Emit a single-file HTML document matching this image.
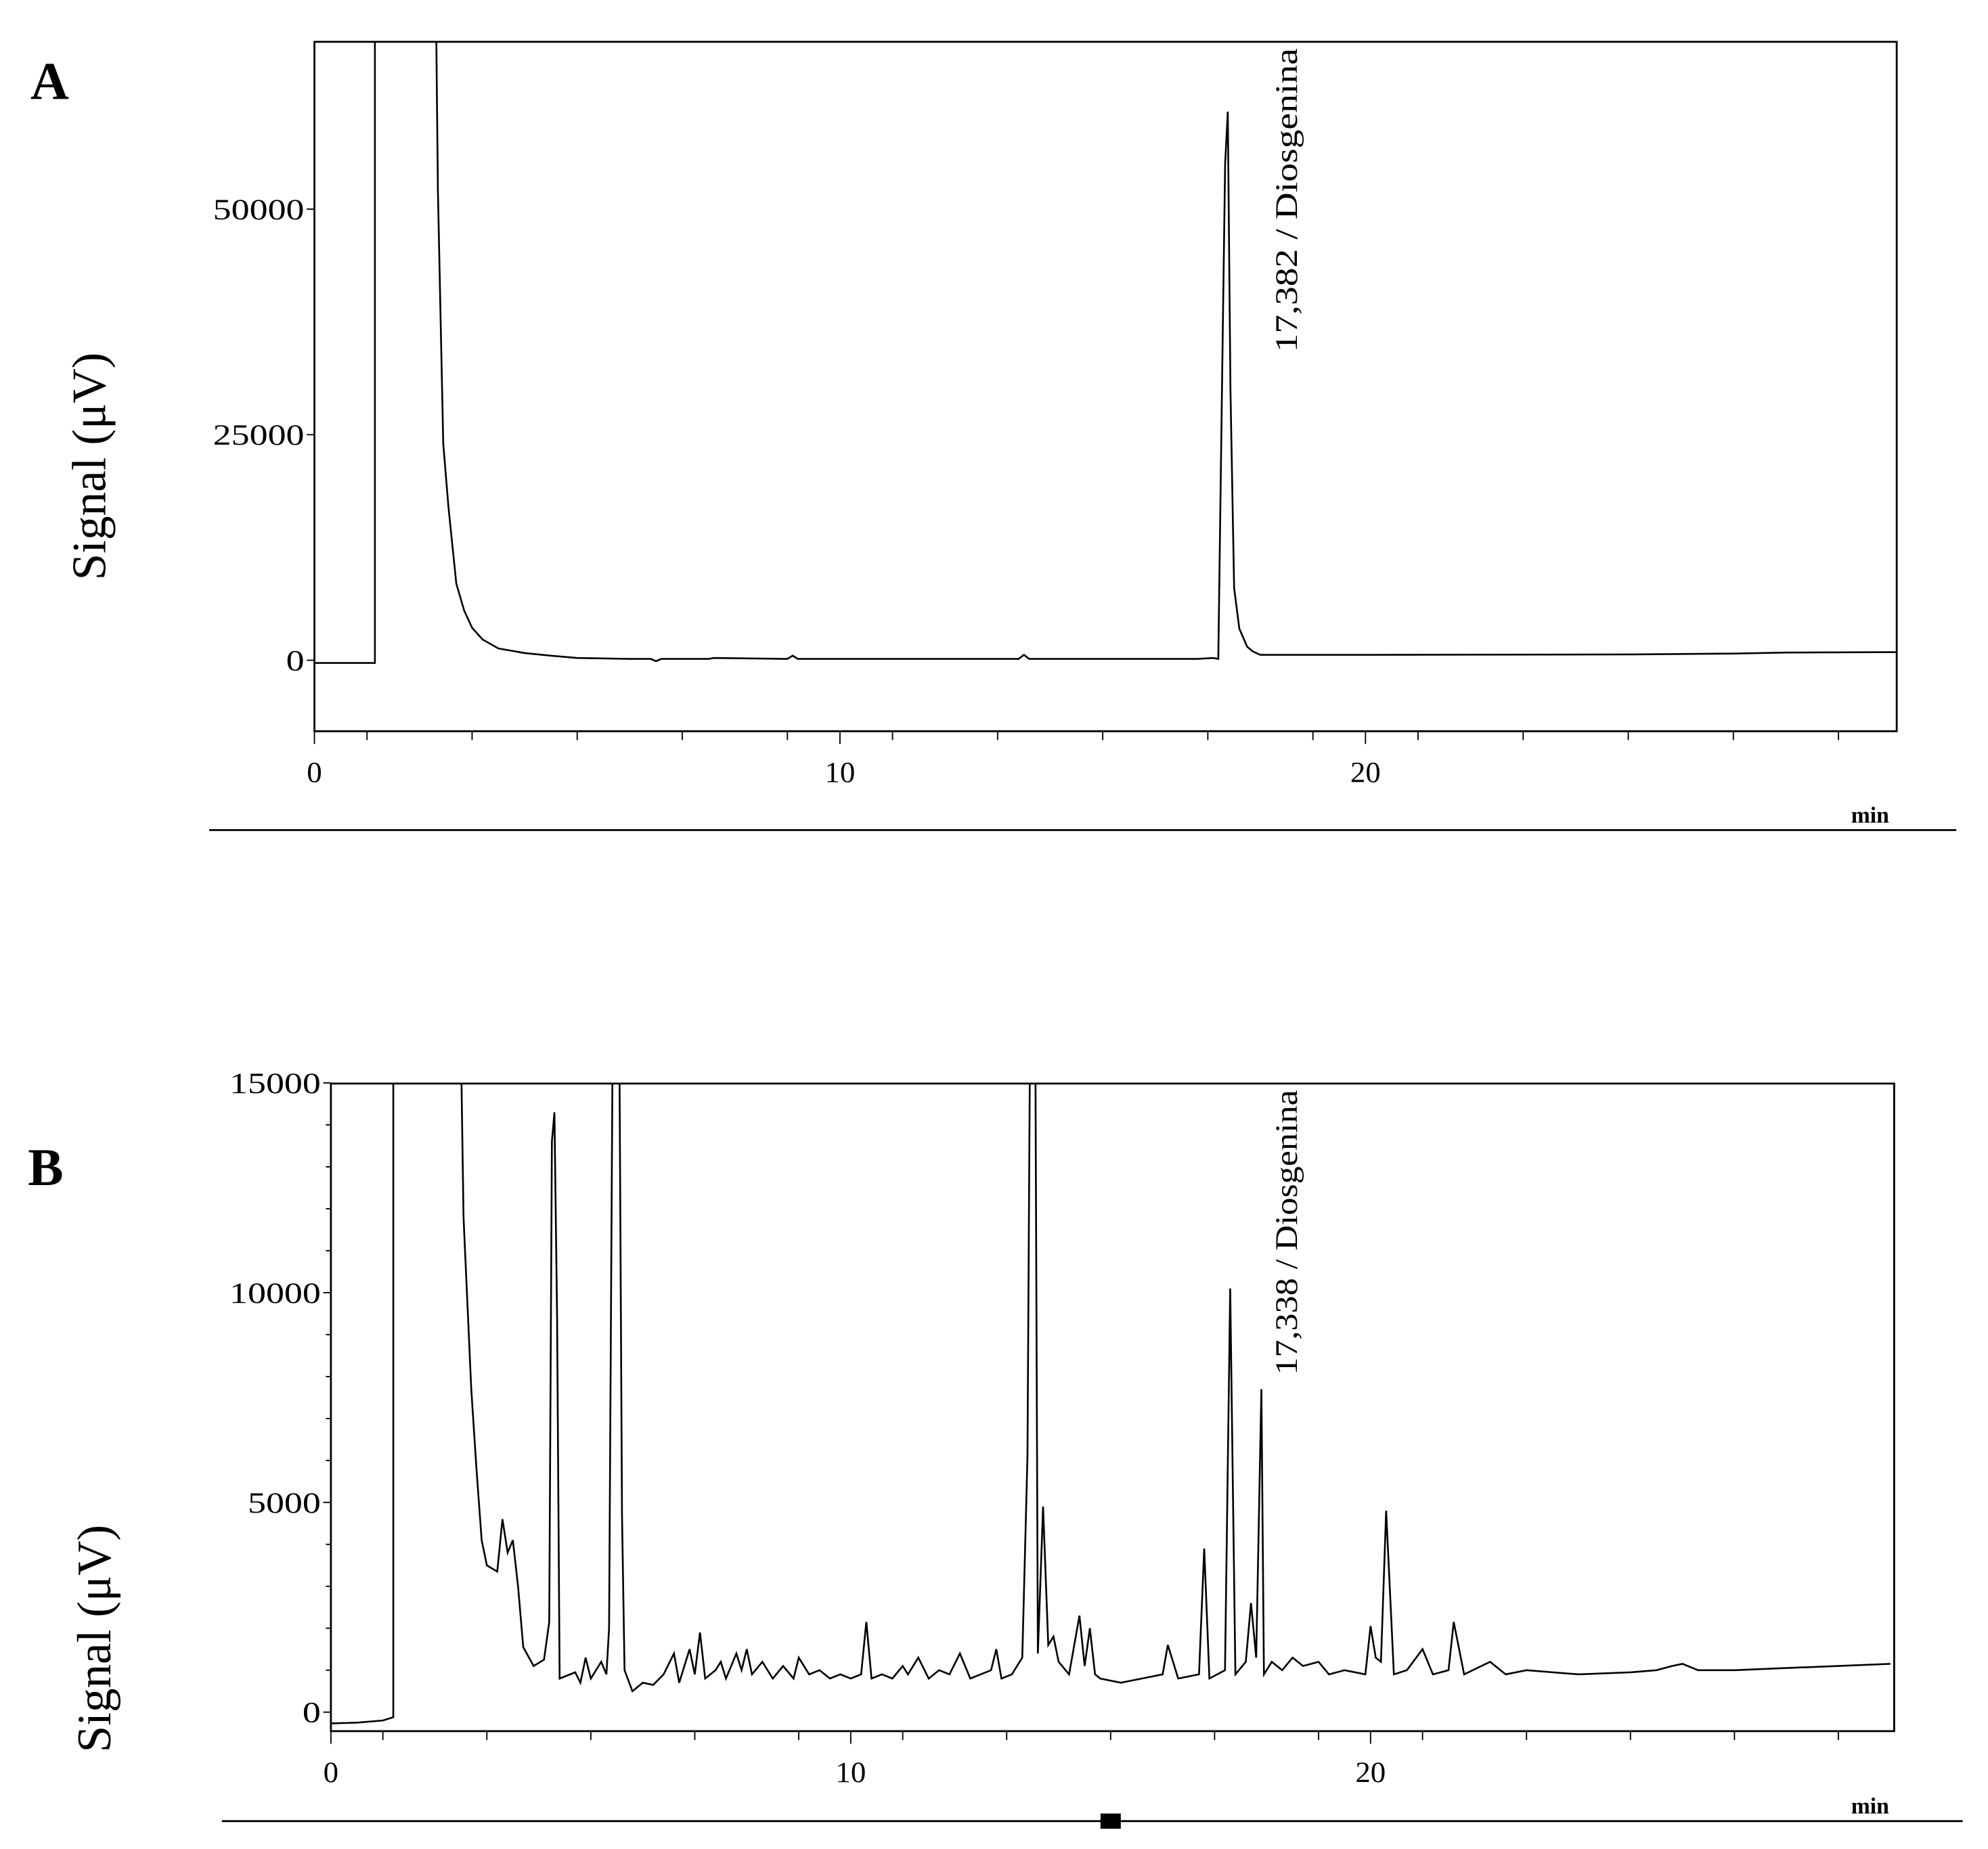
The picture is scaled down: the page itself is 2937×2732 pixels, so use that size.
<!DOCTYPE html>
<html><head><meta charset="utf-8"><style>
html,body{margin:0;padding:0;background:#fff}
svg{display:block}
text{font-family:"Liberation Serif",serif;fill:#000}
</style></head><body>
<svg id="chart" width="2937" height="2732" viewBox="0 0 1568 1459" preserveAspectRatio="none" xmlns="http://www.w3.org/2000/svg">
<defs>
<clipPath id="clipA"><rect x="248" y="33" width="1248" height="544"/></clipPath>
<clipPath id="clipB"><rect x="261" y="855" width="1233" height="511"/></clipPath>
</defs>
<text x="24" y="78" font-size="42" font-weight="bold">A</text>
<text x="22" y="935" font-size="42" font-weight="bold">B</text>
<text transform="translate(83,368) rotate(-90)" text-anchor="middle" font-size="38">Signal (μV)</text>
<text transform="translate(87,1293) rotate(-90)" text-anchor="middle" font-size="38">Signal (μV)</text>
<g id="panelA"></g>
<g id="panelB"></g>
</svg>
<script>
// Panel A data
const timesA = [0,1.15,1.15,2.3,2.35,2.45,2.55,2.7,2.85,3.0,3.2,3.5,4.0,4.5,5.0,6.0,6.4,6.5,6.6,7.5,7.6,9.0,9.1,9.2,13.4,13.5,13.6,16.8,17.1,17.2,17.28,17.33,17.38,17.43,17.5,17.6,17.75,17.85,18.0,20,25,27,28,30.1];
const valuesA = [-300,-300,80000,80000,52000,24000,17000,8500,5500,3600,2300,1300,800,500,250,150,150,-100,150,150,250,150,500,150,150,600,150,150,250,150,35000,55000,60800,30000,8000,3500,1500,1000,600,600,650,750,850,900];
const yTicksA = [0,25000,50000];
const xTicks = [0,10,20];
const xMinor = [1,3,5,7,9,11,13,15,17,19,21,23,25,27,29];
// Panel B data
const timesB = [0,0.5,1.0,1.2,1.2,2.5,2.55,2.7,2.8,2.9,3.0,3.2,3.3,3.4,3.5,3.6,3.7,3.9,4.1,4.2,4.25,4.3,4.35,4.4,4.7,4.8,4.9,5.0,5.2,5.3,5.35,5.42,5.55,5.6,5.65,5.8,6.0,6.2,6.4,6.6,6.7,6.9,7.0,7.1,7.2,7.4,7.5,7.6,7.8,7.9,8.0,8.1,8.3,8.5,8.7,8.9,9.0,9.2,9.4,9.6,9.8,10.0,10.2,10.3,10.4,10.6,10.8,11.0,11.1,11.3,11.5,11.7,11.9,12.1,12.3,12.5,12.7,12.8,12.9,13.1,13.3,13.4,13.45,13.55,13.6,13.7,13.8,13.9,14.0,14.2,14.4,14.5,14.6,14.7,14.8,15.2,15.6,16.0,16.1,16.3,16.7,16.8,16.9,17.2,17.3,17.4,17.6,17.7,17.8,17.9,17.95,18.1,18.3,18.5,18.7,19.0,19.2,19.5,19.9,20.0,20.1,20.2,20.3,20.45,20.7,21.0,21.2,21.5,21.6,21.8,22.3,22.6,23,24,25,25.5,25.8,26,26.3,27,28,29,30];
const valuesB = [-270,-250,-200,-120,16000,16000,11800,7700,5800,4100,3500,3350,4600,3800,4100,3000,1550,1100,1250,2150,13600,14300,9400,800,950,700,1300,800,1200,900,2000,16000,16000,4700,1000,500,700,650,900,1400,700,1500,900,1900,800,1000,1200,800,1400,1000,1500,900,1200,800,1100,800,1300,900,1000,800,900,800,900,2150,800,900,800,1100,900,1300,800,1000,900,1400,800,900,1000,1500,800,900,1300,6100,16000,16000,1400,4900,1600,1800,1200,900,2300,1100,2000,900,800,700,800,900,1600,800,900,3900,800,1000,10100,900,1200,2600,1300,7700,900,1200,1000,1300,1100,1200,900,1000,900,2050,1300,1200,4800,900,1000,1500,900,1000,2150,900,1200,900,1000,900,950,1000,1100,1150,1000,1000,1050,1100,1150];
const yTicksB = [0,5000,10000,15000];
const yMinorB = [1000,2000,3000,4000,6000,7000,8000,9000,11000,12000,13000,14000];

const NS="http://www.w3.org/2000/svg";
function mk(tag,attrs,parent){const e=document.createElementNS(NS,tag);for(const k in attrs)e.setAttribute(k,attrs[k]);parent.appendChild(e);return e;}

function drawPanel(g,cfg){
  const xs=t=>cfg.x0+t*cfg.pxPerMin;
  const ys=v=>cfg.yZero-v*cfg.pxPerUnit;
  const frame=mk('rect',{x:cfg.left,y:cfg.top,width:cfg.right-cfg.left,height:cfg.bottom-cfg.top,fill:'none',stroke:'#000','stroke-width':1.5},g);
  
  
  cfg.yTicks.forEach(v=>{
    const l=mk('line',{x1:cfg.left-6,x2:cfg.left,y1:ys(v),y2:ys(v),stroke:'#000','stroke-width':1},g);
    
    
    const s=String(v);
    const t=mk('text',{x:cfg.left-8,y:ys(v)+8,'text-anchor':'end','font-size':23,textLength:s.length*14.4,lengthAdjust:'spacingAndGlyphs'},g);
    t.textContent=s;
    
    
  });
  (cfg.yMinor||[]).forEach(v=>{
    const l=mk('line',{x1:cfg.left-4,x2:cfg.left,y1:ys(v),y2:ys(v),stroke:'#000','stroke-width':1},g);
    
    
  });
  xTicks.forEach(v=>{
    const l=mk('line',{x1:xs(v),x2:xs(v),y1:cfg.bottom,y2:cfg.bottom+10,stroke:'#000','stroke-width':1},g);
    
    
    const s=String(v);
    const t=mk('text',{x:xs(v),y:cfg.bottom+40,'text-anchor':'middle','font-size':23,textLength:s.length*12,lengthAdjust:'spacingAndGlyphs'},g);
    t.textContent=s;
    
    
  });
  xMinor.forEach(v=>{
    const l=mk('line',{x1:xs(v),x2:xs(v),y1:cfg.bottom,y2:cfg.bottom+7,stroke:'#000','stroke-width':1},g);
    
    
  });
  const pts=cfg.times.map((t,i)=>xs(t).toFixed(1)+','+ys(cfg.values[i]).toFixed(1)).join(' ');
  const pl=mk('polyline',{points:pts,fill:'none',stroke:'#000','stroke-width':1.4,'clip-path':cfg.clip},g);
  
  
  const base=mk('line',{x1:cfg.lineX1,x2:cfg.lineX2,y1:cfg.lineY,y2:cfg.lineY,stroke:'#000','stroke-width':1.5},g);
  
  
  const mn=mk('text',{x:1475,y:cfg.lineY-6,'text-anchor':'middle','font-size':18,'font-weight':'bold'},g);
  mn.textContent='min';
  
  
  const ann=mk('text',{transform:`translate(${cfg.annX},${cfg.annY}) rotate(-90)`,'text-anchor':'start','font-size':25,textLength:cfg.annLen,lengthAdjust:'spacingAndGlyphs'},g);
  ann.textContent=cfg.annText;
  
  
}

drawPanel(document.getElementById('panelA'),{left:248,right:1496,top:33,bottom:577,x0:248,pxPerMin:41.45,yZero:521,pxPerUnit:178/25000,
  times:timesA,values:valuesA,yTicks:yTicksA,clip:'url(#clipA)',lineX1:165,lineX2:1543,lineY:655,annX:1023,annY:278,annLen:240,annText:'17,382 / Diosgenina'});
drawPanel(document.getElementById('panelB'),{left:261,right:1494,top:855,bottom:1366,x0:261,pxPerMin:41,yZero:1351,pxPerUnit:165.5/5000,
  times:timesB,values:valuesB,yTicks:yTicksB,yMinor:yMinorB,clip:'url(#clipB)',lineX1:175,lineX2:1548,lineY:1437,annX:1023,annY:1085,annLen:225,annText:'17,338 / Diosgenina'});
const sq=mk('rect',{x:868,y:1431,width:16,height:12,fill:'#000'},document.getElementById('panelB'));


</script>
</body></html>
